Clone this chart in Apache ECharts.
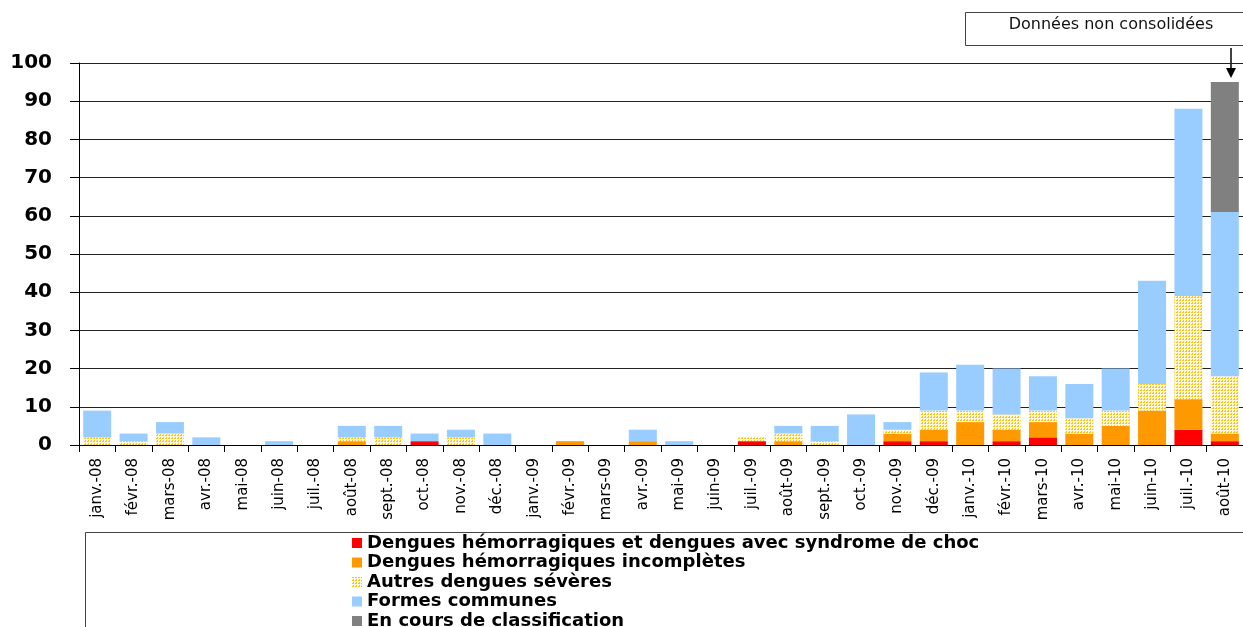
<!DOCTYPE html>
<html>
<head>
<meta charset="utf-8">
<script src="https://cdn.jsdelivr.net/npm/echarts@6/dist/echarts.min.js"></script>
<style>
html,body{margin:0;padding:0;background:#fff;}
#chart{width:1243px;height:627px;}
</style>
</head>
<body>
<div id="chart"></div>
<script>
var months = ['janv.-08','févr.-08','mars-08','avr.-08','mai-08','juin-08','juil.-08','août-08','sept.-08','oct.-08','nov.-08','déc.-08',
  'janv.-09','févr.-09','mars-09','avr.-09','mai-09','juin-09','juil.-09','août-09','sept.-09','oct.-09','nov.-09','déc.-09',
  'janv.-10','févr.-10','mars-10','avr.-10','mai-10','juin-10','juil.-10','août-10'];
var seriesNames = ['Dengues hémorragiques et dengues avec syndrome de choc','Dengues hémorragiques incomplètes','Autres dengues sévères','Formes communes','En cours de classification'];
var dhChoc      = [0,0,0,0,0,0,0,0,0,1,0,0, 0,0,0,0,0,0,1,0,0,0,1,1, 0,1,2,0,0,0,4,1];
var dhIncompl   = [0,0,0,0,0,0,0,1,0,0,0,0, 0,1,0,1,0,0,0,1,0,0,2,3, 6,3,4,3,5,9,8,2];
var autresSev   = [2,1,3,0,0,0,0,1,2,0,2,0, 0,0,0,0,0,0,1,2,1,0,1,5, 3,4,3,4,4,7,27,15];
var communes    = [7,2,3,2,0,1,0,3,3,2,2,3, 0,0,0,3,1,0,0,2,4,8,2,10, 12,12,9,9,11,27,49,43];
var enCours     = [0,0,0,0,0,0,0,0,0,0,0,0, 0,0,0,0,0,0,0,0,0,0,0,0, 0,0,0,0,0,0,0,34];
var yTicks = {min:0, max:100, interval:10};

// dotted yellow pattern
var pc = document.createElement('canvas');
pc.width = 3; pc.height = 3;
var pctx = pc.getContext('2d');
pctx.fillStyle = '#fff8d8'; pctx.fillRect(0,0,3,3);
pctx.fillStyle = '#f7c520';
pctx.fillRect(0,0,2,1);
pctx.fillRect(1,2,1,1);
var yellowPattern = {image: pc, repeat: 'repeat'};

var colors = ['#ff0000','#ff9900',yellowPattern,'#99ccff','#808080'];
var datas = [dhChoc, dhIncompl, autresSev, communes, enCours];

var chart = echarts.init(document.getElementById('chart'), null, {renderer:'canvas'});
var series = datas.map(function(d,i){
  return {
    name: seriesNames[i], type:'bar', stack:'total', data:d, barWidth:28,
    itemStyle:{color: colors[i]}, emphasis:{disabled:true}
  };
});
chart.setOption({
  animation:false,
  backgroundColor:'#fff',
  grid:{left:79, right:-6, top:63, bottom:182, containLabel:false},
  xAxis:{
    type:'category', data:months,
    axisLine:{lineStyle:{color:'#000', width:1}},
    axisTick:{show:true, length:7, interval:0, alignWithLabel:false, lineStyle:{color:'#000'}},
    axisLabel:{rotate:90, interval:0, margin:13, fontSize:15, fontFamily:'DejaVu Sans', color:'#000'}
  },
  yAxis:{
    type:'value', min:yTicks.min, max:yTicks.max, interval:yTicks.interval,
    axisLine:{show:true, lineStyle:{color:'#000', width:1}},
    axisTick:{show:true, length:9, lineStyle:{color:'#000'}},
    axisLabel:{fontSize:20, fontWeight:'bold', fontFamily:'DejaVu Sans', color:'#000', margin:27},
    splitLine:{show:true, lineStyle:{color:'#222', width:1}}
  },
  legend:{
    orient:'vertical', left:352, top:534, height:160, width:800, padding:0, itemWidth:10, itemHeight:10, itemGap:1.5,
    icon:'rect', selectedMode:false,
    textStyle:{fontSize:18, fontWeight:'bold', fontFamily:'DejaVu Sans', color:'#000'},
    data:seriesNames
  },
  graphic:[
    {type:'rect', shape:{x:85.5, y:532.5, width:1200, height:200}, style:{fill:'none', stroke:'#444', lineWidth:1}, z:-1, silent:true},
    {type:'rect', shape:{x:965.5, y:12.5, width:300, height:33}, style:{fill:'#fff', stroke:'#444', lineWidth:1}, silent:true},
    {type:'text', x:1111, y:25, style:{text:'Données non consolidées', fontSize:16, fontFamily:'DejaVu Sans', fill:'#111', align:'center', verticalAlign:'middle'}, silent:true},
    {type:'line', shape:{x1:1231, y1:48, x2:1231, y2:72}, style:{stroke:'#000', lineWidth:1.5}, silent:true},
    {type:'polygon', shape:{points:[[1226,68],[1236,68],[1231,78]]}, style:{fill:'#000'}, silent:true}
  ],
  series:series
});
</script>
</body>
</html>
